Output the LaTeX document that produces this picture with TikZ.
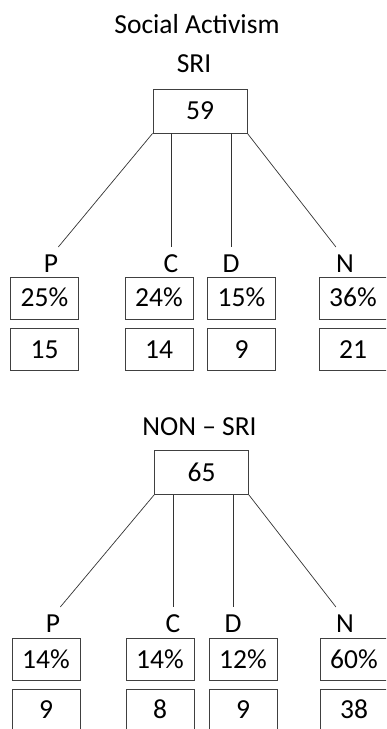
\documentclass[tikz,border=0pt]{standalone}
\usepackage{fontspec}
\setmainfont{Carlito}
\usetikzlibrary{positioning}

\begin{document}
\begin{tikzpicture}[
    x=1pt, y=-1pt,
    font=\fontsize{27.5}{32}\selectfont,
    cell/.style={rectangle, draw=black!75, line width=0.8pt, minimum width=68pt, minimum height=42pt, inner sep=0pt, text height=17pt, text depth=0pt},
    root/.style={cell, minimum width=94pt, minimum height=44pt},
    grp/.style={inner sep=0pt, text height=17pt, text depth=0pt, outer ysep=8pt, anchor=base},
    link/.style={draw=black!80, line width=0.7pt}
]
    \useasboundingbox (0,0) rectangle (386,729);
    \clip (0,0) rectangle (386,729);

    % SRI
    \node[anchor=base] (title) at (197,33) {Social Activism};
    \node[anchor=base] (sri) at (194,72) {SRI};
    \node[root] (sriroot) at (200,111) {59};

    \node[grp] (sriP) at (51,272) {P};
    \node[grp] (sriC) at (171,272) {C};
    \node[grp] (sriD) at (231,272) {D};
    \node[grp] (sriN) at (345,272) {N};

    \node[cell] (sriPpct) at (44.5,298) {25\%};
    \node[cell] (sriCpct) at (159,298) {24\%};
    \node[cell] (sriDpct) at (241.5,298) {15\%};
    \node[cell] (sriNpct) at (353,298) {36\%};
    \node[cell, below=9pt of sriPpct] (sriPval) {15};
    \node[cell, below=9pt of sriCpct] (sriCval) {14};
    \node[cell, below=9pt of sriDpct] (sriDval) {9};
    \node[cell, below=9pt of sriNpct] (sriNval) {21};

    \draw[link] (sriroot.south west) -- (sriP.north east);
    \draw[link] (sriC.north |- sriroot.south) -- (sriC.north);
    \draw[link] (sriD.north |- sriroot.south) -- (sriD.north);
    \draw[link] (sriroot.south east) -- (sriN.north west);

    % NON - SRI
    \node[anchor=base] (non) at (199.5,435) {NON -- SRI};
    \node[root] (nonroot) at (201.5,472.5) {65};

    \node[grp] (nonP) at (53,632) {P};
    \node[grp] (nonC) at (173,632) {C};
    \node[grp] (nonD) at (233,632) {D};
    \node[grp] (nonN) at (345,632) {N};

    \node[cell] (nonPpct) at (46,659.5) {14\%};
    \node[cell] (nonCpct) at (160,659.5) {14\%};
    \node[cell] (nonDpct) at (243,659.5) {12\%};
    \node[cell] (nonNpct) at (354,659.5) {60\%};
    \node[cell, below=8pt of nonPpct] (nonPval) {9};
    \node[cell, below=8pt of nonCpct] (nonCval) {8};
    \node[cell, below=8pt of nonDpct] (nonDval) {9};
    \node[cell, below=8pt of nonNpct] (nonNval) {38};

    \draw[link] (nonroot.south west) -- (nonP.north east);
    \draw[link] (nonC.north |- nonroot.south) -- (nonC.north);
    \draw[link] (nonD.north |- nonroot.south) -- (nonD.north);
    \draw[link] (nonroot.south east) -- (nonN.north west);
\end{tikzpicture}
\end{document}
